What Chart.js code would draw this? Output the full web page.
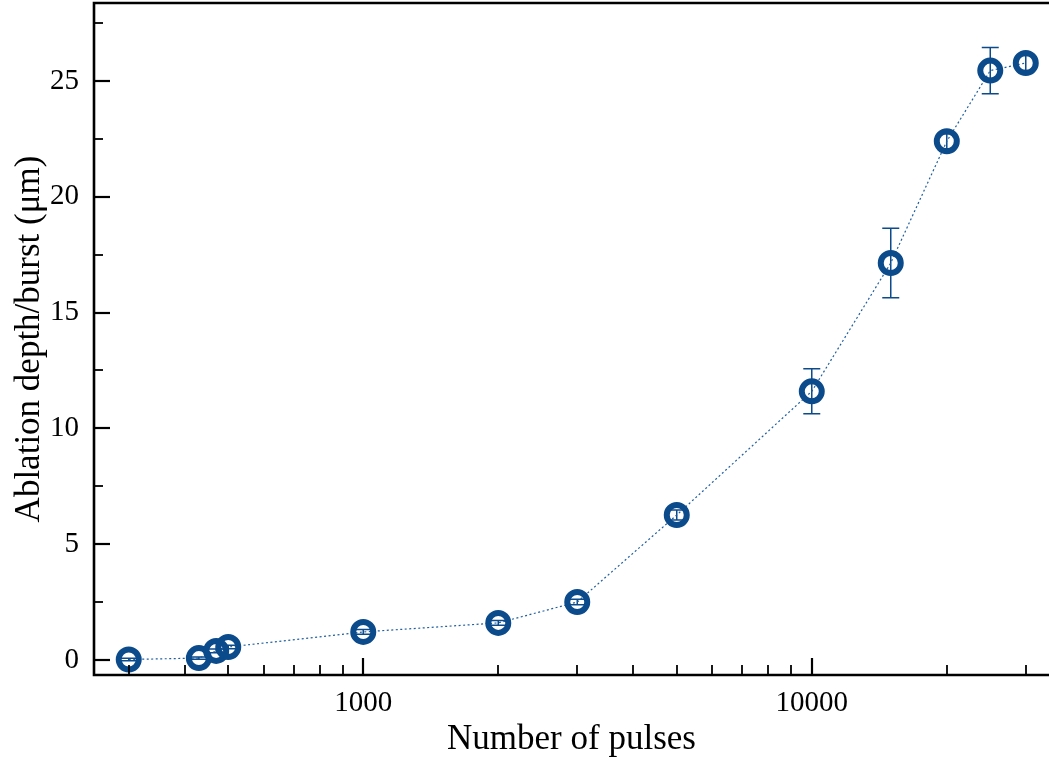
<!DOCTYPE html>
<html>
<head>
<meta charset="utf-8">
<script src="https://cdn.jsdelivr.net/npm/chart.js@4/dist/chart.umd.min.js"></script>
<style>
html,body{margin:0;padding:0;background:#fff;}
#wrap{width:1049px;height:759px;}
</style>
</head>
<body>
<div id="wrap"><canvas id="c" width="1049" height="759"></canvas></div>
<script>
const pulses = [300, 430, 470, 500, 1000, 2000, 3000, 5000, 10000, 15000, 20000, 25000, 30000];
const depth  = [0.02, 0.08, 0.39, 0.56, 1.21, 1.60, 2.50, 6.26, 11.60, 17.14, 22.40, 25.45, 25.78];
const depthErr = [0.05, 0.05, 0.08, 0.08, 0.1, 0.1, 0.12, 0.22, 0.97, 1.5, 0.32, 1.0, 0.32];
const xTickValues = [300, 400, 500, 600, 700, 800, 900, 1000, 2000, 3000, 4000, 5000, 6000, 7000, 8000, 9000, 10000, 20000, 30000];
const xMajorLabels = [1000, 10000];
const yTickValues = [0, 2.5, 5, 7.5, 10, 12.5, 15, 17.5, 20, 22.5, 25, 27.5];
const yMajorLabels = [0, 5, 10, 15, 20, 25];

const COLOR = '#0b4a8b';
const FONT = '"Liberation Serif", "DejaVu Serif", serif';

const tickPlugin = {
  id: 'inwardTicks',
  afterDraw(chart) {
    const ctx = chart.ctx;
    const a = chart.chartArea;
    const xs = chart.scales.x, ys = chart.scales.y;
    ctx.save();
    ctx.strokeStyle = '#000';
    xs.ticks.forEach(t => {
      const px = xs.getPixelForValue(t.value);
      if (px < a.left + 1 || px > a.right) return;
      const major = xMajorLabels.includes(t.value);
      ctx.lineWidth = major ? 2.2 : 1.8;
      ctx.beginPath();
      ctx.moveTo(Math.round(px), a.bottom);
      ctx.lineTo(Math.round(px), a.bottom - (major ? 17 : 10));
      ctx.stroke();
    });
    ys.ticks.forEach(t => {
      const py = ys.getPixelForValue(t.value);
      if (py < a.top + 1 || py > a.bottom) return;
      const major = yMajorLabels.includes(t.value);
      ctx.lineWidth = major ? 2.2 : 1.8;
      ctx.beginPath();
      ctx.moveTo(a.left, Math.round(py));
      ctx.lineTo(a.left + (major ? 16 : 9), Math.round(py));
      ctx.stroke();
    });
    ctx.lineWidth = 2.6;
    ctx.beginPath();
    ctx.moveTo(a.right + 3, a.top);
    ctx.lineTo(a.left, a.top);
    ctx.lineTo(a.left, a.bottom);
    ctx.lineTo(a.right + 3, a.bottom);
    ctx.stroke();
    ctx.restore();
  }
};

const errorBarPlugin = {
  id: 'errorBars',
  beforeDatasetsDraw(chart) {
    const ctx = chart.ctx;
    const xs = chart.scales.x, ys = chart.scales.y;
    ctx.save();
    ctx.strokeStyle = COLOR;
    ctx.lineWidth = 1.5;
    pulses.forEach((p, i) => {
      const px = xs.getPixelForValue(p);
      const y1 = ys.getPixelForValue(depth[i] + depthErr[i]);
      const y2 = ys.getPixelForValue(depth[i] - depthErr[i]);
      ctx.beginPath();
      ctx.moveTo(px, y1); ctx.lineTo(px, y2);
      ctx.moveTo(px - 8.5, y1); ctx.lineTo(px + 8.5, y1);
      ctx.moveTo(px - 8.5, y2); ctx.lineTo(px + 8.5, y2);
      ctx.stroke();
    });
    ctx.restore();
  }
};

new Chart(document.getElementById('c'), {
  type: 'line',
  data: {
    datasets: [{
      data: pulses.map((p, i) => ({x: p, y: depth[i]})),
      borderColor: '#1f5fa0',
      borderWidth: 1.2,
      borderDash: [2, 2.5],
      pointRadius: 10,
      pointBorderWidth: 6,
      pointBorderColor: COLOR,
      pointBackgroundColor: 'rgba(0,0,0,0)',
      tension: 0,
      fill: false,
      clip: false
    }]
  },
  options: {
    responsive: false,
    animation: false,
    devicePixelRatio: 1,
    layout: {autoPadding: false, padding: {top: 3, right: 0, left: 0, bottom: 0}},
    plugins: {legend: {display: false}, tooltip: {enabled: false}},
    scales: {
      x: {
        type: 'logarithmic',
        min: 251,
        max: 33800,
        grid: {display: false, drawTicks: false},
        border: {display: false},
        afterBuildTicks(s) { s.ticks = xTickValues.map(v => ({value: v})); },
        afterFit(s) { s.height = 84; s.paddingLeft = 0; s.paddingRight = 0; },
        ticks: {
          autoSkip: false,
          maxRotation: 0,
          padding: 11,
          color: '#000',
          font: {family: FONT, size: 29},
          callback(v) { return xMajorLabels.includes(v) ? String(v) : ''; }
        },
        title: {
          display: true,
          text: 'Number of pulses',
          color: '#000',
          font: {family: FONT, size: 35},
          padding: {top: 0, bottom: -2}
        }
      },
      y: {
        min: -0.65,
        max: 28.37,
        grid: {display: false, drawTicks: false},
        border: {display: false},
        afterBuildTicks(s) { s.ticks = yTickValues.map(v => ({value: v})); },
        afterFit(s) { s.width = 94; s.paddingTop = 0; s.paddingBottom = 0; },
        ticks: {
          autoSkip: false,
          padding: 15,
          color: '#000',
          font: {family: FONT, size: 29},
          callback(v) { return yMajorLabels.includes(v) ? String(v) : ''; }
        },
        title: {
          display: true,
          text: 'Ablation depth/burst (μm)',
          color: '#000',
          font: {family: FONT, size: 35},
          padding: {top: 9, bottom: 0}
        }
      }
    }
  },
  plugins: [tickPlugin, errorBarPlugin]
});
</script>
</body>
</html>
